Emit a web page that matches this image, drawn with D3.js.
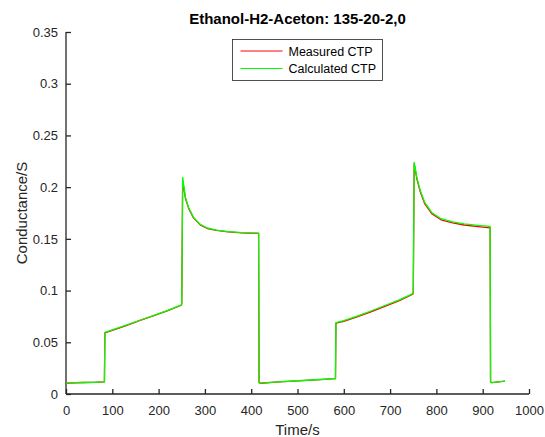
<!DOCTYPE html>
<html lang="en">
<head>
<meta charset="UTF-8">
<title>Ethanol-H2-Aceton</title>
<script src="https://d3js.org/d3.v7.min.js"></script>
<style>
body { margin: 0; background: #fff; }
svg text { font-family: "Liberation Sans", Arial, sans-serif; fill: #262626; }
</style>
</head>
<body>
<script>

var w = 545;
var h = 437;

// time stamps (s)
var time = [0, 20, 40, 60, 83, 84, 100, 130, 160, 190, 220, 249, 250, 252, 258, 265, 275, 290, 305, 325, 350, 380, 416, 417,
            420, 460, 500, 540, 582, 583, 600, 630, 660, 690, 720, 749, 750, 752, 758, 765, 775, 790, 810, 835, 860, 890, 916, 917, 920, 948];

// measured CTP (S)
var measured = [0.0106, 0.0109, 0.0111, 0.0113, 0.0117, 0.0590, 0.0615, 0.0662, 0.0712, 0.0758, 0.0806, 0.0858, 0.0870, 0.2060, 0.1890, 0.1795, 0.1705, 0.1635, 0.1600, 0.1582, 0.1568, 0.1558, 0.1553, 0.0110,
                0.0104, 0.0117, 0.0127, 0.0137, 0.0148, 0.0685, 0.0703, 0.0747, 0.0797, 0.0850, 0.0902, 0.0965, 0.0980, 0.2225, 0.2075, 0.1958, 0.1838, 0.1743, 0.1684, 0.1655, 0.1634, 0.1618, 0.1606, 0.0114, 0.0110, 0.0124];

// calculated CTP (S)
var calculated = [0.0108, 0.0110, 0.0111, 0.0113, 0.0118, 0.0595, 0.0620, 0.0665, 0.0713, 0.0760, 0.0808, 0.0862, 0.0875, 0.2095, 0.1900, 0.1800, 0.1710, 0.1640, 0.1605, 0.1585, 0.1570, 0.1560, 0.1555, 0.0110,
                  0.0105, 0.0118, 0.0128, 0.0138, 0.0150, 0.0690, 0.0710, 0.0755, 0.0805, 0.0858, 0.0910, 0.0970, 0.0985, 0.2240, 0.2090, 0.1970, 0.1850, 0.1755, 0.1695, 0.1665, 0.1645, 0.1630, 0.1620, 0.0115, 0.0110, 0.0125];

var xTicks = [0, 100, 200, 300, 400, 500, 600, 700, 800, 900, 1000];
var yTicks = [0, 0.05, 0.1, 0.15, 0.2, 0.25, 0.3, 0.35];

var series = [
    {name: "Measured CTP", values: measured, color: "#ff0000"},
    {name: "Calculated CTP", values: calculated, color: "#00ff00"}
];

var margin = {left: 66, right: 16, top: 32, bottom: 43};

var x = d3.scaleLinear().domain([0, 1000]).range([margin.left, w - margin.right]);
var y = d3.scaleLinear().domain([0, 0.35]).range([h - margin.bottom, margin.top]);

var svg = d3.select("body").append("svg")
    .attr("width", w)
    .attr("height", h);

// axes, ticks inside like matlab
var xAxis = d3.axisBottom(x).tickValues(xTicks).tickSize(-5).tickPadding(12).tickFormat(d3.format("d"));
var yAxis = d3.axisLeft(y).tickValues(yTicks).tickSize(-5).tickPadding(8).tickFormat(function(d) { return d === 0 ? "0" : String(+d.toFixed(2)); });

var gx = svg.append("g")
    .attr("transform", "translate(0," + y(0) + ")")
    .call(xAxis);
var gy = svg.append("g")
    .attr("transform", "translate(" + x(0) + ",0)")
    .call(yAxis);

[gx, gy].forEach(function(g) {
    g.select(".domain").attr("stroke", "#262626").attr("stroke-width", 1.3);
    g.selectAll(".tick line").attr("stroke", "#262626").attr("stroke-width", 1.3);
    g.selectAll(".tick text")
        .attr("font-family", "Liberation Sans, Arial, sans-serif")
        .attr("font-size", "13px")
        .attr("fill", "#262626");
});
gx.select(".domain").attr("d", "M" + x(0) + ",0H" + x(1000));
gy.select(".domain").attr("d", "M0," + y(0) + "V" + y(0.35));

var line = d3.line()
    .x(function(d, i) { return x(time[i]); })
    .y(function(d) { return y(d); });

svg.selectAll("path.series")
    .data(series)
    .enter()
    .append("path")
    .attr("class", "series")
    .attr("d", function(d) { return line(d.values); })
    .attr("fill", "none")
    .attr("stroke", function(d) { return d.color; })
    .attr("stroke-width", 1.3)
    .attr("stroke-linejoin", "round");

// title
svg.append("text")
    .attr("x", (x(0) + x(1000)) / 2)
    .attr("y", 24)
    .attr("text-anchor", "middle")
    .attr("font-size", "15px")
    .attr("font-weight", "bold")
    .style("fill", "#000")
    .text("Ethanol-H2-Aceton: 135-20-2,0");

// axis labels
svg.append("text")
    .attr("x", (x(0) + x(1000)) / 2)
    .attr("y", 435)
    .attr("text-anchor", "middle")
    .attr("font-size", "15px")
    .text("Time/s");

svg.append("text")
    .attr("transform", "translate(27," + (y(0) + y(0.35)) / 2 + ") rotate(-90)")
    .attr("text-anchor", "middle")
    .attr("font-size", "15px")
    .text("Conductance/S");

// legend
var legend = svg.append("g").attr("transform", "translate(232.5,39.5)");
legend.append("rect")
    .attr("width", 150)
    .attr("height", 41)
    .attr("fill", "#fff")
    .attr("stroke", "#262626")
    .attr("stroke-width", 0.8);

var items = legend.selectAll("g.item")
    .data(series)
    .enter()
    .append("g")
    .attr("class", "item")
    .attr("transform", function(d, i) { return "translate(0," + (11.5 + i * 17.5) + ")"; });

items.append("line")
    .attr("x1", 8)
    .attr("x2", 50)
    .attr("stroke", function(d) { return d.color; })
    .attr("stroke-width", 1);

items.append("text")
    .attr("x", 56)
    .attr("y", 4.5)
    .attr("font-size", "12.5px")
    .style("fill", "#000")
    .text(function(d) { return d.name; });

</script>
</body>
</html>
